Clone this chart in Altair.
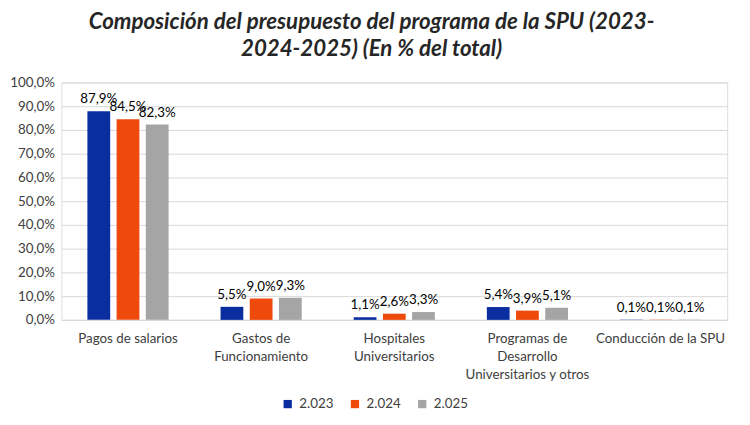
import altair as alt
import pandas as pd

categories = ["Pagos de salarios", "Gastos de\nFuncionamiento", "Hospitales\nUniversitarios",
              "Programas de\nDesarrollo\nUniversitarios y otros", "Conducción de la SPU"]
years = ["2.023", "2.024", "2.025"]
v2023 = [87.9, 5.5, 1.1, 5.4, 0.1]
v2024 = [84.5, 9.0, 2.6, 3.9, 0.1]
v2025 = [82.3, 9.3, 3.3, 5.1, 0.1]
colors = ["#0A2EA0", "#EE4A0B", "#A5A5A5"]

rows = []
for i, c in enumerate(categories):
    for y, vals in zip(years, [v2023, v2024, v2025]):
        rows.append({"cat": c, "year": y, "value": vals[i]})
df = pd.DataFrame(rows)

FONT = "Lato"

yenc = alt.Y("value:Q", title=None,
             scale=alt.Scale(domain=[0, 100], nice=False),
             axis=alt.Axis(values=list(range(0, 101, 10)),
                           labelExpr="replace(format(datum.value, '.1f'), '.', ',') + '%'",
                           labelFontSize=13.5, labelColor="#404040", labelFont=FONT,
                           domain=False, ticks=False, labelPadding=7, labelOverlap=False,
                           gridColor="#D9D9D9", gridWidth=1))

base = alt.Chart(df).encode(
    x=alt.X("cat:N", sort=categories, title=None,
            scale=alt.Scale(paddingInner=0, paddingOuter=0),
            axis=alt.Axis(labelExpr="split(datum.label, '\\n')", labelAngle=0,
                          labelFontSize=13.5, labelColor="#404040", labelFont=FONT,
                          labelLineHeight=18, labelPadding=12, ticks=False,
                          domain=True, domainColor="#D9D9D9", labelBaseline="top")),
    xOffset=alt.XOffset("year:N", sort=years,
                        scale=alt.Scale(paddingInner=0.22, paddingOuter=0.89)),
    y=yenc,
)

bars = base.mark_bar().encode(
    color=alt.Color("year:N", sort=years, title=None,
                    scale=alt.Scale(domain=years, range=colors),
                    legend=alt.Legend(orient="none", legendX=222, legendY=318,
                                      direction="horizontal", symbolType="square",
                                      symbolSize=70, symbolStrokeWidth=0,
                                      labelFontSize=13.5, labelFont=FONT,
                                      labelColor="#404040", columnPadding=14,
                                      labelOffset=5)),
)

labels = base.mark_text(baseline="bottom", dy=-5, fontSize=13.5, font=FONT,
                        color="#000000").encode(
    text=alt.Text("lbl:N"),
).transform_calculate(
    lbl="replace(format(datum.value, '.1f'), '.', ',') + '%'"
)

chart = alt.layer(bars, labels).properties(
    width=673, height=240,
    autosize=alt.AutoSizeParams(type="none"),
    padding={"left": 54, "top": 73, "right": 15, "bottom": 104},
    title=alt.Title(["Composición del presupuesto del programa de la SPU (2023-",
                     "2024-2025) (En % del total)"],
                    font=FONT, fontSize=22.5, fontWeight="bold", fontStyle="italic",
                    color="#262626", anchor="middle", dx=-23, offset=15,
                    lineHeight=28),
).configure_view(stroke=None).configure(background="white")

chart.save("out.html", embed_options={"renderer": "svg", "actions": False})
